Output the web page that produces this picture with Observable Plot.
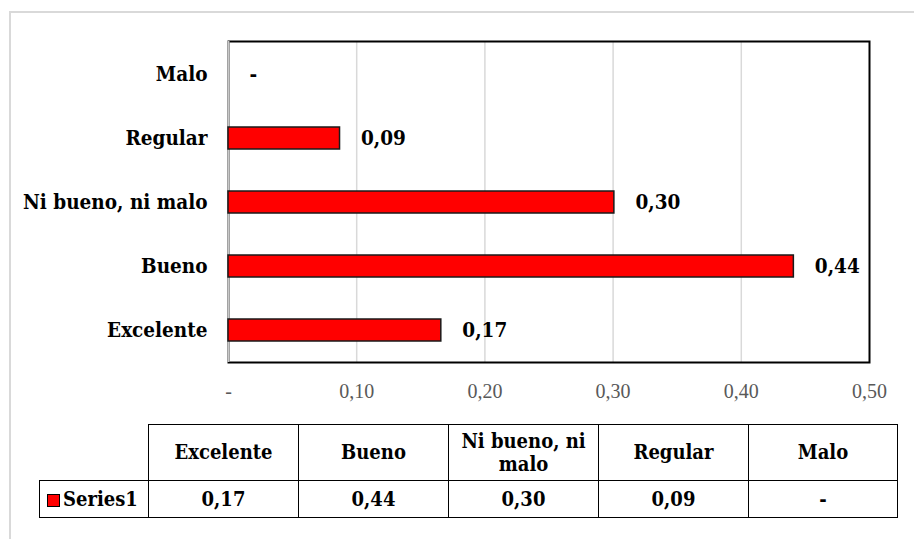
<!DOCTYPE html>
<html>
<head>
<meta charset="utf-8">
<script src="https://cdn.jsdelivr.net/npm/d3@7"></script>
<script src="https://cdn.jsdelivr.net/npm/@observablehq/plot@0.6"></script>
<style>
  html, body { margin: 0; padding: 0; background: #fff; }
  #wrap { position: relative; width: 914px; height: 539px; overflow: hidden; background: #fff; }
  #outer { position: absolute; left: 9px; top: 11px; width: 1000px; height: 600px; border-left: 2px solid #d9d9d9; border-top: 2px solid #d9d9d9; }
  #chart { position: absolute; left: 0; top: 0; }
  #table { position: absolute; left: 39px; top: 424px; width: 858px; table-layout: fixed; border-collapse: collapse; font-family: "DejaVu Serif", serif; font-stretch: condensed; font-weight: bold; font-size: 20px; color: #000; }
  #table td { border: 1.5px solid #000; text-align: center; padding: 0; }
  #table td.empty { border: none; }
  #table tr.head td { height: 55px; line-height: 23px; }
  #table tr.row td { height: 36px; }
  .key { display: inline-block; width: 11px; height: 11px; background: #ff0000; border: 1px solid #000; margin-right: 3px; vertical-align: -1px; }
</style>
</head>
<body>
<div id="wrap">
  <div id="outer"></div>
  <div id="chart"></div>
  <table id="table"></table>
</div>
<script>
// ---- data ----
const categories = ["Excelente", "Bueno", "Ni bueno, ni malo", "Regular", "Malo"];
const values = [0.166, 0.441, 0.301, 0.087, 0];
const xTicks = [0, 0.1, 0.2, 0.3, 0.4, 0.5];
const seriesName = "Series1";

const fmt = v => v === 0 ? "-" : v.toFixed(2).replace(".", ",");
const data = categories.map((c, i) => ({cat: c, value: values[i]}));

const plot = Plot.plot({
  width: 914,
  height: 420,
  marginLeft: 228,
  marginRight: 45,
  marginTop: 41,
  marginBottom: 58,
  style: {fontFamily: "'DejaVu Serif', serif", background: "transparent", overflow: "visible"},
  x: {domain: [0, 0.5], label: null},
  y: {domain: categories.slice().reverse(), paddingInner: 0.66, paddingOuter: 0.33, label: null},
  marks: [
    Plot.ruleX(xTicks.slice(1, -1), {stroke: "#d9d9d9", strokeWidth: 1.5}),
    Plot.frame({stroke: "#000", strokeWidth: 2}),
    Plot.ruleX([0], {stroke: "#c8c8c8", strokeWidth: 2}),
    Plot.barX(data.filter(d => d.value > 0), {x: "value", y: "cat", fill: "#ff0000", stroke: "#1a1a1a", strokeWidth: 1.5}),
    Plot.text(data, {x: "value", y: "cat", text: d => fmt(d.value), textAnchor: "start", dx: 21,
      fontWeight: "bold", fontSize: 20.5, fill: "#000", fontFamily: "'DejaVu Serif', serif"}),
    Plot.axisX({ticks: xTicks, tickFormat: fmt, tickSize: 0, tickPadding: 21, fontSize: 20,
      fill: "#595959", fontFamily: "'Liberation Serif', serif", label: null}),
    Plot.axisY({tickSize: 0, tickPadding: 21, fontSize: 20.5, fontWeight: "bold", fill: "#000",
      fontFamily: "'DejaVu Serif', serif", label: null})
  ]
});
plot.querySelectorAll("text").forEach(t => {
  const p = t.parentNode;
  if (t.getAttribute("font-weight") === "bold" || (p && p.getAttribute && p.getAttribute("font-weight") === "bold")) t.style.fontStretch = "condensed";
});
document.getElementById("chart").appendChild(plot);

// ---- data table below the chart ----
const table = document.getElementById("table");
const colgroup = document.createElement("colgroup");
[109, 150, 150, 150, 150, 149].forEach(w => {
  const col = document.createElement("col");
  col.style.width = w + "px";
  colgroup.appendChild(col);
});
table.appendChild(colgroup);
const head = document.createElement("tr");
head.className = "head";
const empty = document.createElement("td");
empty.className = "empty";
head.appendChild(empty);
categories.forEach(c => {
  const td = document.createElement("td");
  if (c === "Ni bueno, ni malo") td.innerHTML = "Ni bueno, ni<br>malo";
  else td.textContent = c;
  head.appendChild(td);
});
table.appendChild(head);
const row = document.createElement("tr");
row.className = "row";
const name = document.createElement("td");
name.innerHTML = '<span class="key"></span>' + seriesName;
name.style.textAlign = "left";
name.style.paddingLeft = "7px";
row.appendChild(name);
values.forEach(v => {
  const td = document.createElement("td");
  td.textContent = fmt(v);
  row.appendChild(td);
});
table.appendChild(row);
</script>
</body>
</html>
